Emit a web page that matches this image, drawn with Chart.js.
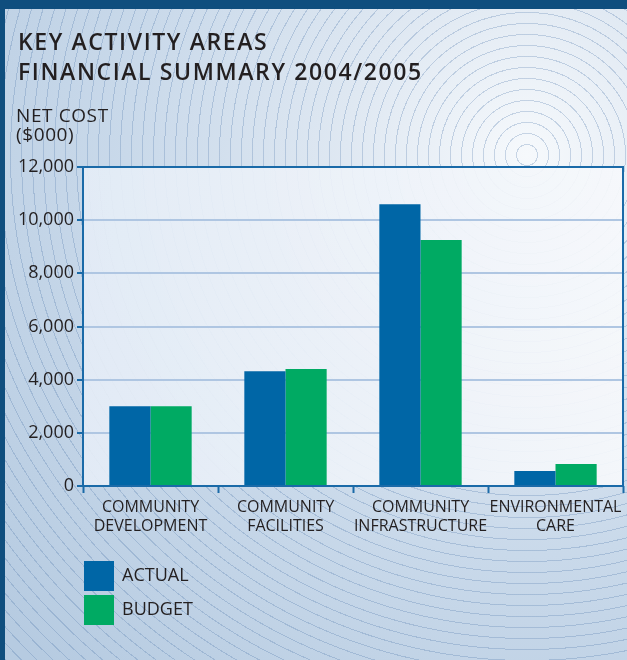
<!DOCTYPE html>
<html>
<head>
<meta charset="utf-8">
<script src="https://cdn.jsdelivr.net/npm/chart.js@4.4.1/dist/chart.umd.min.js"></script>
<style>
html,body{margin:0;padding:0;}
body{width:627px;height:660px;position:relative;overflow:hidden;
background:
 repeating-radial-gradient(circle at 527px 155px, rgba(255,255,255,0) 0px, rgba(255,255,255,0) 10px, rgba(80,120,170,0.28) 10px, rgba(80,120,170,0.28) 11px),
 radial-gradient(circle at 527px 155px, #f6f9fc 0px, #dfe8f2 180px, #c9d9ea 400px, #b6cbe1 700px);}
#top{position:absolute;left:0;top:0;width:627px;height:9px;background:#0f4e7e;}
#left{position:absolute;left:0;top:0;width:5px;height:660px;background:#0f4e7e;}
#wrap{position:absolute;left:0;top:0;width:627px;height:660px;}
</style>
</head>
<body>
<div id="top"></div><div id="left"></div>
<div id="wrap"><canvas id="c" width="627" height="660"></canvas></div>
<script>
const categories = [["COMMUNITY","DEVELOPMENT"],["COMMUNITY","FACILITIES"],["COMMUNITY","INFRASTRUCTURE"],["ENVIRONMENTAL","CARE"]];
const actual = [3000, 4320, 10600, 560];
const budget = [3000, 4400, 9250, 830];
const seriesNames = ["ACTUAL", "BUDGET"];
const seriesColors = ["#0066a6", "#00aa63"];
const titleLines = ["KEY ACTIVITY AREAS", "FINANCIAL SUMMARY 2004/2005"];
const yTitleLines = ["NET COST", "($000)"];
const yTicks = [0, 2000, 4000, 6000, 8000, 10000, 12000];

const FONT = "'Open Sans', 'Noto Sans', sans-serif";
const TXT = "#231f20";
const AXIS = "#1a6aa8";

const decor = {
  id: 'decor',
  beforeDraw(chart) {
    const {ctx, chartArea: a} = chart;
    ctx.save();
    const g = ctx.createLinearGradient(a.left, 0, a.right, 0);
    g.addColorStop(0, 'rgba(228,236,246,0.93)');
    g.addColorStop(1, 'rgba(246,248,251,0.93)');
    ctx.fillStyle = g;
    ctx.fillRect(a.left, a.top, a.right - a.left, a.bottom - a.top);
    ctx.restore();
  },
  afterDraw(chart) {
    const {ctx, chartArea: a} = chart;
    ctx.save();
    ctx.strokeStyle = AXIS;
    ctx.lineWidth = 2;
    ctx.beginPath();
    ctx.moveTo(a.left, a.bottom);
    ctx.lineTo(a.left, a.top);
    ctx.lineTo(a.right, a.top);
    ctx.lineTo(a.right, a.bottom);
    ctx.lineTo(a.left, a.bottom);
    ctx.stroke();
    ctx.fillStyle = TXT;
    ctx.textBaseline = 'alphabetic';
    ctx.textAlign = 'left';
    ctx.font = "600 23px " + FONT;
    if ('letterSpacing' in ctx) ctx.letterSpacing = '1.6px';
    ctx.fillText(titleLines[0], 18, 50);
    ctx.fillText(titleLines[1], 18, 80);
    if ('letterSpacing' in ctx) ctx.letterSpacing = '0.6px';
    ctx.font = "19px " + FONT;
    ctx.fillText(yTitleLines[0], 16, 122);
    ctx.fillText(yTitleLines[1], 16, 141);
    if ('letterSpacing' in ctx) ctx.letterSpacing = '0px';
    chart.data.datasets.forEach((ds, i) => {
      const y = 561 + i * 34;
      ctx.fillStyle = ds.backgroundColor;
      ctx.fillRect(84, y, 30, 30);
      ctx.fillStyle = TXT;
      ctx.font = "18px " + FONT;
      ctx.textBaseline = 'middle';
      ctx.fillText(ds.label, 122, y + 15);
    });
    ctx.restore();
  }
};

new Chart(document.getElementById('c'), {
  type: 'bar',
  data: {
    labels: categories,
    datasets: [
      {label: seriesNames[0], data: actual, backgroundColor: seriesColors[0], borderWidth: 0},
      {label: seriesNames[1], data: budget, backgroundColor: seriesColors[1], borderWidth: 0}
    ]
  },
  options: {
    responsive: false,
    animation: false,
    devicePixelRatio: 1,
    layout: {padding: {left: 0, right: 4, top: 167, bottom: 0}},
    plugins: {legend: {display: false}, title: {display: false}, tooltip: {enabled: false}},
    datasets: {bar: {categoryPercentage: 0.61, barPercentage: 1.0}},
    scales: {
      x: {
        afterFit(s) { s.height = 174; },
        grid: {display: true, drawOnChartArea: false, offset: true, tickColor: AXIS, tickLength: 7, tickWidth: 2, color: AXIS},
        border: {display: false},
        ticks: {color: TXT, font: {family: FONT, size: 16}, padding: 5, maxRotation: 0, autoSkip: false}
      },
      y: {
        min: 0, max: 12000,
        afterFit(s) { s.width = 83; },
        afterBuildTicks(s) { s.ticks = yTicks.map(v => ({value: v})); },
        grid: {color: 'rgba(175,198,226,1)', lineWidth: 2, tickColor: AXIS, tickLength: 6, tickWidth: 2, drawTicks: true},
        border: {display: false},
        ticks: {color: TXT, font: {family: FONT, size: 18}, padding: 3,
          callback: v => Number(v).toLocaleString('en-US')}
      }
    }
  },
  plugins: [decor]
});
</script>
</body>
</html>
